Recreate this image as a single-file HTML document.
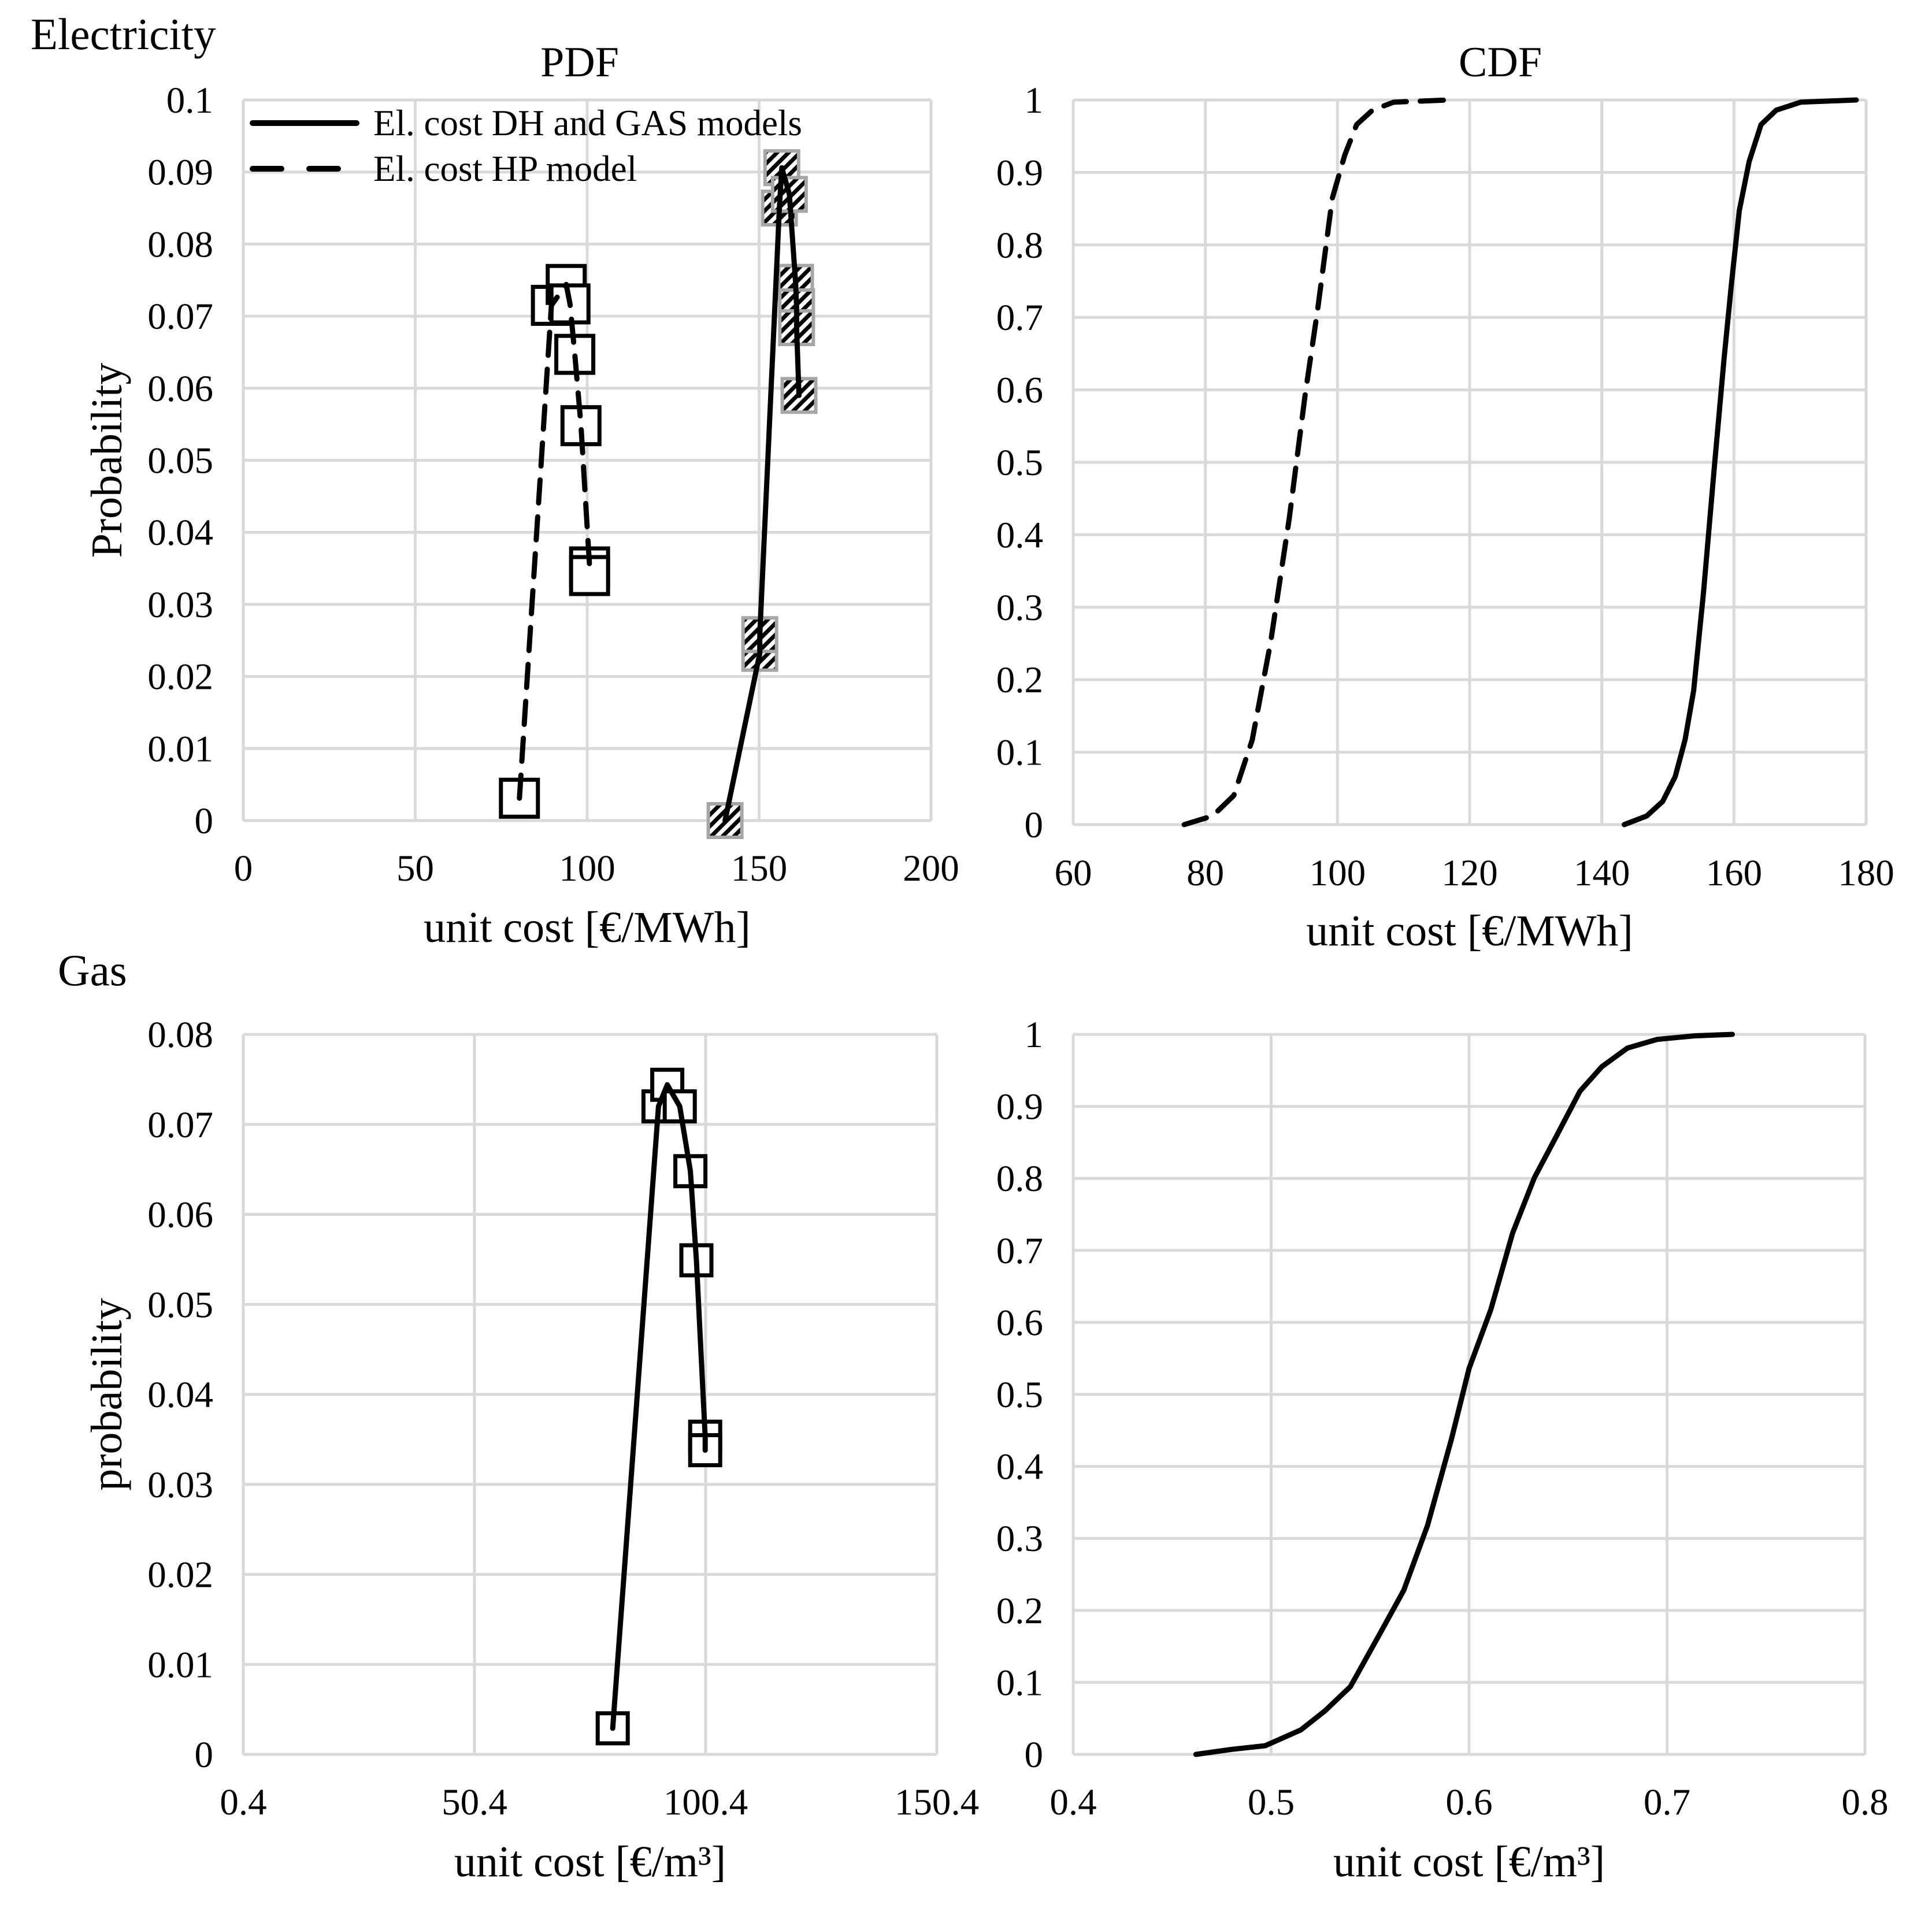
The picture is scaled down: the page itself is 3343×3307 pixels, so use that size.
<!DOCTYPE html>
<html><head><meta charset="utf-8"><style>
html,body{margin:0;padding:0;background:#fff;}
svg{display:block;font-family:"Liberation Serif",serif;}
</style></head><body>
<svg id="fig" width="3343" height="3307" viewBox="0 0 3343 3307" xmlns="http://www.w3.org/2000/svg">
<defs>
<pattern id="hatch" patternUnits="userSpaceOnUse" width="14" height="14" patternTransform="rotate(-45)">
<rect width="14" height="14" fill="#fff"/><rect width="14" height="7" fill="#000"/>
</pattern>
</defs>
<text x="53" y="85" font-size="77">Electricity</text>
<text x="100" y="1705" font-size="77">Gas</text>
<text x="1003" y="132" font-size="74" text-anchor="middle">PDF</text>
<text x="2596" y="132" font-size="74" text-anchor="middle">CDF</text>
</svg>
<script>
// Electricity PDF
const elDhX = [140.1,150.2,150.2,155.9,156.6,158.8,160.6,160.9,160.9,161.6];
const elDhY = [0.0,0.0232,0.0258,0.085,0.0906,0.0869,0.0747,0.0713,0.0684,0.059];
const elHpX = [80.3,89.6,93.9,95.0,96.4,98.2,100.7,100.7];
const elHpY = [0.0031,0.0715,0.0744,0.0717,0.0647,0.0548,0.0352,0.034];
const elPdfXTicks = ["0","50","100","150","200"];
const elPdfYTicks = ["0","0.01","0.02","0.03","0.04","0.05","0.06","0.07","0.08","0.09","0.1"];
// Electricity CDF
const cdfHpX = [76.8,81.1,84.3,87.1,89.9,92.7,95.1,97.0,99.2,101.1,102.9,105.3,108.5,116.9];
const cdfHpY = [0,0.012,0.04,0.117,0.253,0.423,0.593,0.711,0.864,0.924,0.966,0.986,0.997,1];
const cdfDhX = [143.4,146.8,149.2,151.1,152.6,153.9,155.4,157.0,158.5,159.6,160.8,162.3,164.1,166.4,170.1,178.5];
const cdfDhY = [0,0.012,0.032,0.066,0.117,0.185,0.321,0.49,0.643,0.745,0.847,0.915,0.966,0.986,0.997,1];
const elCdfXTicks = ["60","80","100","120","140","160","180"];
const cdfYTicks = ["0","0.1","0.2","0.3","0.4","0.5","0.6","0.7","0.8","0.9","1"];
// Gas PDF
const gasPdfX = [80.3,90.2,92.1,94.8,97.1,98.4,100.3,100.3];
const gasPdfY = [0.0029,0.072,0.0744,0.072,0.0648,0.0549,0.0353,0.0338];
const gasPdfXTicks = ["0.4","50.4","100.4","150.4"];
const gasPdfYTicks = ["0","0.01","0.02","0.03","0.04","0.05","0.06","0.07","0.08"];
// Gas CDF
const gasCdfX = [0.462,0.48,0.497,0.515,0.527,0.54,0.555,0.567,0.579,0.591,0.6,0.611,0.622,0.633,0.644,0.656,0.667,0.68,0.695,0.714,0.733];
const gasCdfY = [0,0.007,0.012,0.034,0.06,0.094,0.168,0.228,0.318,0.437,0.536,0.618,0.724,0.801,0.858,0.921,0.955,0.981,0.993,0.998,1];
const gasCdfXTicks = ["0.4","0.5","0.6","0.7","0.8"];

const NS="http://www.w3.org/2000/svg";
const svg=document.getElementById('fig');
function mk(tag,attrs,parent){const e=document.createElementNS(NS,tag);for(const k in attrs)e.setAttribute(k,attrs[k]);(parent||svg).appendChild(e);return e;}

function axes(name,L,R,T,B,xmin,xmax,ymin,ymax,xt,yt,xTitle,yTitle,xLabY,xTitY){
  const g=mk('g',{});
  
  
  const sx=v=>L+(v-xmin)/(xmax-xmin)*(R-L);
  const sy=v=>B-(v-ymin)/(ymax-ymin)*(B-T);
  yt.forEach(t=>{const y=sy(parseFloat(t));
    const l=mk('line',{x1:L,x2:R,y1:y,y2:y,stroke:'#d9d9d9','stroke-width':5},g);
    
    
    const tx=mk('text',{x:L-52,y:y+22,'font-size':65,'text-anchor':'end'},g);tx.textContent=t;
    
    
  });
  xt.forEach(t=>{const x=sx(parseFloat(t));
    const l=mk('line',{x1:x,x2:x,y1:T,y2:B,stroke:'#d9d9d9','stroke-width':5},g);
    
    
    const tx=mk('text',{x:x,y:xLabY,'font-size':65,'text-anchor':'middle'},g);tx.textContent=t;
    
    
  });
  const xa=mk('text',{x:(L+R)/2,y:xTitY,'font-size':76,'text-anchor':'middle'},g);xa.textContent=xTitle;
  
  
  if(yTitle){const ya=mk('text',{x:0,y:0,'font-size':76,'text-anchor':'middle',transform:`translate(210,${(T+B)/2}) rotate(-90)`},g);ya.textContent=yTitle;
    
    }
  return {sx,sy,g};
}
function line(ax,xs,ys,dash,name){
  const d=xs.map((x,i)=>(i?'L':'M')+ax.sx(x).toFixed(1)+' '+ax.sy(ys[i]).toFixed(1)).join(' ');
  const p=mk('path',{d:d,fill:'none',stroke:'#000','stroke-width':9,'stroke-linejoin':'round','stroke-linecap':'round'});
  if(dash)p.setAttribute('stroke-dasharray','40 24');
  
  
}
function squares(ax,xs,ys,size,hatched,name){
  xs.forEach((x,i)=>{const cx=ax.sx(x),cy=ax.sy(ys[i]);
    const r=mk('rect',{x:cx-size/2,y:cy-size/2,width:size,height:size,fill:hatched?'url(#hatch)':'#fff',stroke:hatched?'#a6a6a6':'#000','stroke-width':hatched?6:7});
    
    
  });
}

// Top-left PDF
const a1=axes('electricity-pdf-chart',421,1611,173,1420,0,200,0,0.1,elPdfXTicks,elPdfYTicks,'unit cost [€/MWh]','Probability',1524,1630);
squares(a1,elDhX,elDhY,58,true,'dh-marker');
line(a1,elDhX,elDhY,false,'el-cost-dh-gas-line');
squares(a1,elHpX,elHpY,64,false,'hp-marker');
line(a1,elHpX,elHpY,true,'el-cost-hp-line');
// legend
const lg=mk('g',{});


let l1=mk('line',{x1:437,x2:617,y1:213,y2:213,stroke:'#000','stroke-width':10,'stroke-linecap':'round'},lg);


let l2=mk('line',{x1:437,x2:590,y1:292,y2:292,stroke:'#000','stroke-width':10,'stroke-dasharray':'50 48','stroke-linecap':'round'},lg);


let t1=mk('text',{x:646,y:234,'font-size':63},lg);t1.textContent='El. cost DH and GAS models';


let t2=mk('text',{x:646,y:313,'font-size':63},lg);t2.textContent='El. cost HP model';



// Top-right CDF
const a2=axes('electricity-cdf-chart',1857,3229,173,1427,60,180,0,1,elCdfXTicks,cdfYTicks,'unit cost [€/MWh]',null,1532,1636);
line(a2,cdfHpX,cdfHpY,true,'cdf-hp-line');
line(a2,cdfDhX,cdfDhY,false,'cdf-dh-line');

// Bottom-left Gas PDF
const a3=axes('gas-pdf-chart',421,1621,1790,3036,0.4,150.4,0,0.08,gasPdfXTicks,gasPdfYTicks,'unit cost [€/m³]','probability',3140,3247);
squares(a3,gasPdfX,gasPdfY,52,false,'gas-marker');
line(a3,gasPdfX,gasPdfY,false,'gas-pdf-line');

// Bottom-right Gas CDF
const a4=axes('gas-cdf-chart',1857,3227,1790,3036,0.4,0.8,0,1,gasCdfXTicks,cdfYTicks,'unit cost [€/m³]',null,3140,3247);
line(a4,gasCdfX,gasCdfY,false,'gas-cdf-line');
</script>
</body></html>
